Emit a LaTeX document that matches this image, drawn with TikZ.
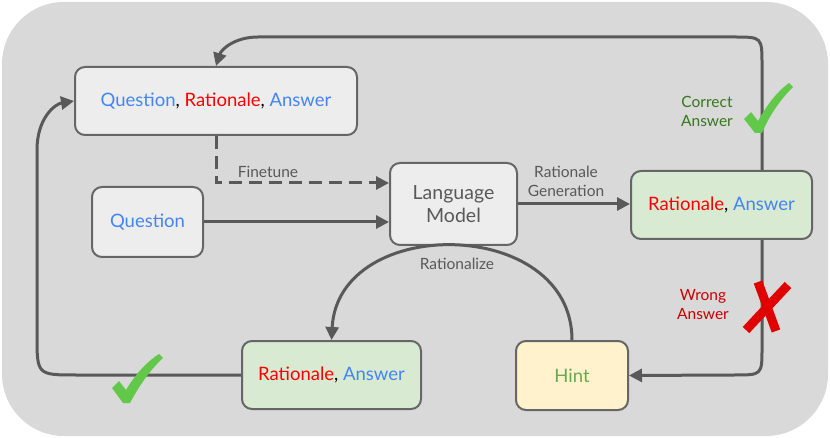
\documentclass[tikz,border=0pt]{standalone}
\usepackage{fontspec}
\setmainfont{Lato}
\usetikzlibrary{arrows.meta,calc}
\definecolor{bg}{HTML}{D9D9D9}
\definecolor{boxgray}{HTML}{EDEDED}
\definecolor{boxgreen}{HTML}{D9EAD3}
\definecolor{boxyellow}{HTML}{FFF2CC}
\definecolor{edge}{HTML}{666666}
\definecolor{arrowc}{HTML}{595959}
\definecolor{qblue}{HTML}{4285F4}
\definecolor{rred}{HTML}{FF0000}
\definecolor{okgreen}{HTML}{38761D}
\definecolor{hintg}{HTML}{6AA84F}
\definecolor{badred}{HTML}{CC0000}
\definecolor{checkg}{HTML}{62C84A}
\definecolor{crossr}{HTML}{E00000}
\newcommand{\Qt}{\textcolor{qblue}{Question}}
\newcommand{\Rt}{\textcolor{rred}{Rationale}}
\newcommand{\At}{\textcolor{qblue}{Answer}}
\tikzset{
  box/.style={draw=edge, line width=2pt, rounded corners=10pt, align=center, inner sep=0pt, font=\fontsize{18.5}{22}\selectfont},
  arr/.style={draw=arrowc, line width=3pt, -{Triangle[length=13pt,width=13pt]}},
  lbl/.style={text=arrowc, font=\fontsize{15.5}{19}\selectfont, align=center, inner sep=0pt},
}
\begin{document}
\begin{tikzpicture}[x=1pt,y=-1pt]
\useasboundingbox (0,0) rectangle (830,438);
\fill[bg, rounded corners=62pt] (2,2) rectangle (828,436);

\node[box, fill=boxgray, minimum width=282pt, minimum height=68pt] (qra) at (216,101) {\Qt, \Rt, \At};
\node[box, fill=boxgray, minimum width=111pt, minimum height=70pt] (q) at (147.5,222) {\Qt};
\node[box, fill=boxgray, minimum width=127pt, minimum height=82pt, text=arrowc, font=\fontsize{19.5}{23}\selectfont] (lm) at (453.5,204) {Language\\Model};
\node[box, fill=boxgreen, minimum width=181pt, minimum height=68pt] (rar) at (721.5,205) {\Rt, \At};
\node[box, fill=boxgreen, minimum width=179pt, minimum height=68pt] (rab) at (331.5,375) {\Rt, \At};
\node[box, fill=boxyellow, minimum width=112pt, minimum height=69pt, text=hintg] (hint) at (572,375.5) {Hint};

\coordinate (t1) at (762,65);
\coordinate (t2) at (762,37);
\coordinate (t3) at (734,37);
\coordinate (t4) at (258,37);
\coordinate (r1) at (762,348);
\coordinate (r2) at (762,375);
\coordinate (r3) at (734,375);
\coordinate (b1) at (77,375);
\coordinate (b2) at (37,375);
\coordinate (b3) at (37,335);
\coordinate (b4) at (37,150);

% top loop
\draw[arr] (rar.north -| t1) -- (t1) .. controls (t2) .. (t3) -- (t4) .. controls (234,37) and (221,50) .. (qra.north);
% down to hint
\draw[arr] (rar.south -| r1) -- (r1) .. controls (r2) .. (r3) -- (hint.east);
% bottom-left loop
\draw[arr] (rab.west) -- (b1) .. controls (b2) .. (b3) -- (b4) .. controls (37,118) and (55,104) .. (qra.west);
% finetune
\draw[arr, dash pattern=on 13pt off 7pt] (qra.south) |- ([yshift=21pt]lm.west);
% question -> LM
\draw[arr] (q.east) -- (q.east -| lm.west);
% LM -> rar
\draw[arr] (lm.east) -- (lm.east -| rar.west);
% rationalize
\draw[arr] (hint.north) .. controls (572,216) and (338,214) .. (rab.north);

\node[lbl] (ft) at (268,172) {Finetune};
\node[lbl] (rg) at (566,181) {Rationale\\Generation};
\node[lbl] (rz) at (457,264) {Rationalize};
\node[lbl, text=okgreen] (ca) at (707,111) {Correct\\Answer};
\node[lbl, text=badred] (wa) at (703,305) {Wrong\\Answer};

% check marks
\fill[checkg] (744,119) -- (751,112) -- (758,121) .. controls (768,103) and (778,91) .. (789,83) -- (793,87) .. controls (780,100) and (769,116) .. (762,133) -- (755,133) -- cycle;
\fill[checkg] (112,388) -- (119,381) -- (126,390) .. controls (136,373) and (148,361) .. (159,354) -- (163,358) .. controls (150,370) and (139,386) .. (130,403) -- (123,403) -- cycle;
% cross
\draw[crossr, line width=9pt] (758,282) -- (776,331);
\draw[crossr, line width=9pt] (788,285) -- (746,330);
\end{tikzpicture}
\end{document}
